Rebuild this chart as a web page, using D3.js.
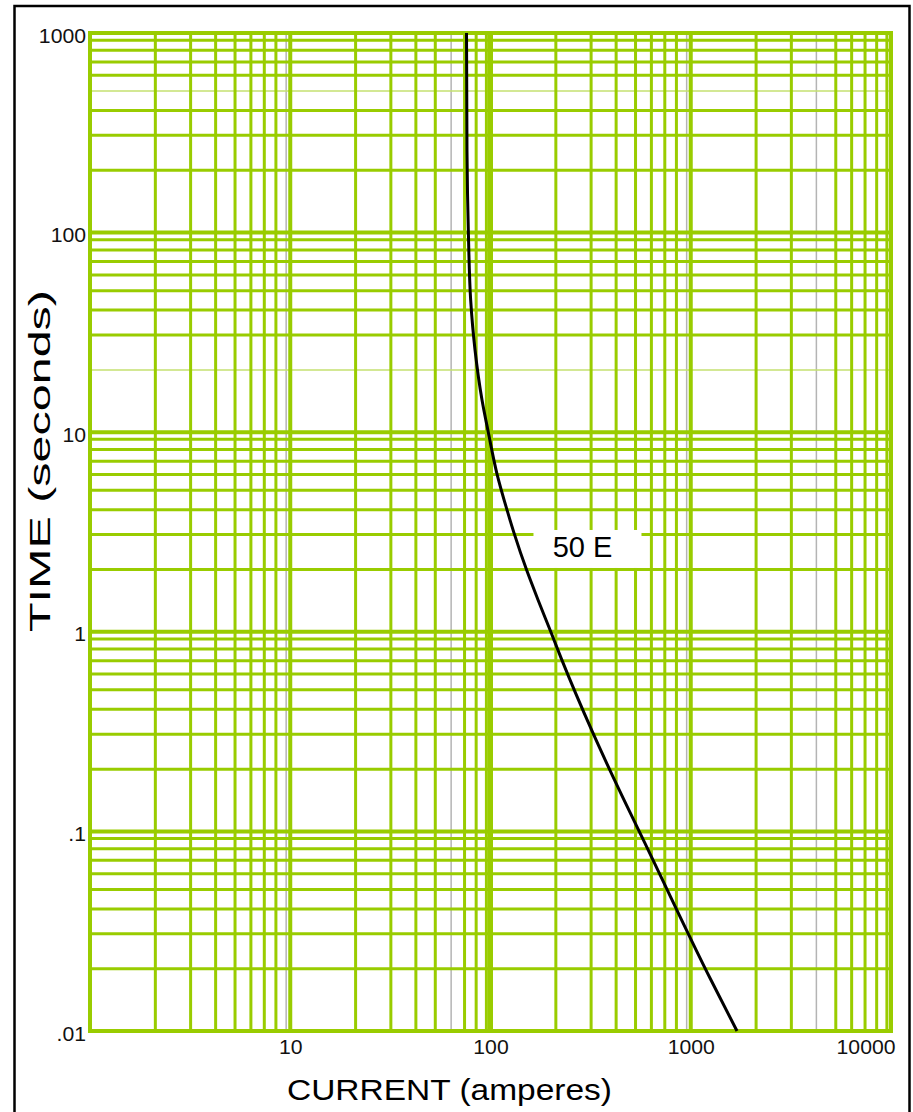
<!DOCTYPE html>
<html>
<head>
<meta charset="utf-8">
<script src="https://cdn.jsdelivr.net/npm/d3@7"></script>
<style>
  html, body { margin: 0; padding: 0; background: #fff; }
  svg { display: block; }
</style>
</head>
<body>
<script>
// ---- Data -------------------------------------------------------------
// Axis ticks and labels
const xTicks = [10, 100, 1000, 10000];
const xTickLabels = ["10", "100", "1000", "10000"];
const yTicks = [1000, 100, 10, 1, 0.1, 0.01];
const yTickLabels = ["1000", "100", "10", "1", ".1", ".01"];

// Log-log paper rulings: decade starts and the minor rulings within a decade
const xDecades = [1, 10, 100, 1000];
const yDecades = [0.01, 0.1, 1, 10, 100];
const xMinor = [2.12, 3.18, 4.24, 5.3, 6.36, 7.42, 8.48, 9.54];
const yMinor = [2.05, 3.07, 4.09, 5.12, 6.14, 7.16, 8.19, 9.21];
const xGrayRulings = [9.54, 63.6, 954, 4240];   // rulings printed thin grey
const yLightRulings = [512, 20.5];              // rulings printed faint

// Minimum melting curve of the 50 E fuse: current (A) vs time (s)
const current = [75.9, 76.3, 77.6, 79.6, 83.7, 90.7, 97.5, 107.8, 120.9, 131, 152, 173, 200, 225, 323, 416, 605, 1262, 1702];
const time    = [1000, 259, 97, 46, 25.8, 14.5, 10, 6.17, 4.08, 3.13, 2.02, 1.44, 1.0, 0.74, 0.315, 0.181, 0.083, 0.018, 0.01];
const curveName = "50 E";
const labelCurrent = 305, labelTime = 2.6;

const xTitle = "CURRENT (amperes)";
const yTitle = "TIME (seconds)";

// ---- Layout -----------------------------------------------------------
const W = 913, H = 1112;
const plot = { left: 90, right: 891, top: 33, bottom: 1031 };
const GREEN = "#99cc00";
const FONT = "'Liberation Sans', Arial, Helvetica, sans-serif";

const svg = d3.select("body").append("svg")
  .attr("width", W).attr("height", H)
  .attr("viewBox", `0 0 ${W} ${H}`);

svg.append("rect").attr("width", W).attr("height", H).attr("fill", "#fff");

// outer frame (open at the bottom)
svg.append("path")
  .attr("d", `M14.5,${H} V6 H909.5 V${H}`)
  .attr("fill", "none").attr("stroke", "#000").attr("stroke-width", 2.5);

const x = d3.scaleLog().domain([1, 10000]).range([plot.left, plot.right]);
const y = d3.scaleLog().domain([0.01, 1000]).range([plot.bottom, plot.top]);

const near = (a, b) => Math.abs(Math.log10(a) - Math.log10(b)) < 0.002;

// ---- Grid -------------------------------------------------------------
const grid = svg.append("g").attr("class", "grid");

const xMinorVals = xDecades.flatMap(d => xMinor.map(m => d * m));
const yMinorVals = yDecades.flatMap(d => yMinor.map(m => d * m));

// thin grey verticals
grid.selectAll("line.xgray")
  .data(xMinorVals.filter(v => xGrayRulings.some(g => near(g, v))))
  .join("line").attr("class", "xgray")
  .attr("x1", d => x(d)).attr("x2", d => x(d))
  .attr("y1", plot.top).attr("y2", plot.bottom)
  .attr("stroke", "#b4b4b4").attr("stroke-width", 1.5);

// horizontal minor rulings
grid.selectAll("line.ymin")
  .data(yMinorVals)
  .join("line").attr("class", "ymin")
  .attr("x1", plot.left).attr("x2", plot.right)
  .attr("y1", d => y(d)).attr("y2", d => y(d))
  .attr("stroke", d => yLightRulings.some(g => near(g, d)) ? "#c4e070" : GREEN)
  .attr("stroke-width", d => yLightRulings.some(g => near(g, d)) ? 1.5 : 3);

// vertical minor rulings
grid.selectAll("line.xmin")
  .data(xMinorVals.filter(v => !xGrayRulings.some(g => near(g, v))))
  .join("line").attr("class", "xmin")
  .attr("x1", d => x(d)).attr("x2", d => x(d))
  .attr("y1", plot.top).attr("y2", plot.bottom)
  .attr("stroke", GREEN).attr("stroke-width", 3);

// decade rulings
grid.selectAll("line.ymaj")
  .data(yTicks)
  .join("line").attr("class", "ymaj")
  .attr("x1", plot.left - 2).attr("x2", plot.right + 2)
  .attr("y1", d => y(d)).attr("y2", d => y(d))
  .attr("stroke", GREEN).attr("stroke-width", 4);

grid.selectAll("line.xmaj")
  .data([1, ...xTicks])
  .join("line").attr("class", "xmaj")
  .attr("x1", d => x(d)).attr("x2", d => x(d))
  .attr("y1", plot.top - 2).attr("y2", plot.bottom + 2)
  .attr("stroke", GREEN).attr("stroke-width", d => d === 100 ? 5 : 4);

// ---- Curve label box --------------------------------------------------
const lx = x(labelCurrent), ly = y(labelTime);
svg.append("rect")
  .attr("x", lx - 54).attr("y", ly - 19)
  .attr("width", 108).attr("height", 38)
  .attr("fill", "#fff");

// ---- Curve ------------------------------------------------------------
const pts = current.map((c, i) => [c, time[i]]);
const line = d3.line()
  .x(d => x(d[0])).y(d => y(d[1]))
  .curve(d3.curveMonotoneY);

svg.append("path")
  .datum(pts)
  .attr("d", line)
  .attr("fill", "none")
  .attr("stroke", "#000")
  .attr("stroke-width", 3)
  .attr("stroke-linejoin", "round");

svg.append("text")
  .attr("x", lx - 5).attr("y", ly + 8)
  .attr("text-anchor", "middle")
  .attr("font-family", FONT).attr("font-size", 29)
  .attr("fill", "#000")
  .text(curveName);

// ---- Axes -------------------------------------------------------------
const yAxis = d3.axisLeft(y)
  .tickValues(yTicks)
  .tickFormat((d, i) => yTickLabels[i])
  .tickSize(0).tickPadding(4);

const xAxis = d3.axisBottom(x)
  .tickValues(xTicks)
  .tickFormat((d, i) => xTickLabels[i])
  .tickSize(0).tickPadding(9);

const gy = svg.append("g").attr("transform", `translate(${plot.left},0)`).call(yAxis);
const gx = svg.append("g").attr("transform", `translate(0,${plot.bottom})`).call(xAxis);

[gx, gy].forEach(g => {
  g.select(".domain").remove();
  g.selectAll("text")
    .attr("font-family", FONT)
    .attr("font-size", 20)
    .attr("fill", "#111");
});
gy.selectAll("text").attr("dy", "0.45em");
gx.selectAll("text").attr("dy", "0.71em");
// last x label sits inside the frame
gx.selectAll(".tick").filter(d => d === 10000).select("text")
  .attr("text-anchor", "end").attr("x", 4);

// slightly wide lettering
svg.selectAll(".tick text").each(function () {
  const t = d3.select(this);
  const len = this.getComputedTextLength();
  t.attr("textLength", len * 1.06).attr("lengthAdjust", "spacingAndGlyphs");
});

// ---- Titles -----------------------------------------------------------
svg.append("text")
  .attr("x", 449.5).attr("y", 1100)
  .attr("text-anchor", "middle")
  .attr("font-family", FONT).attr("font-size", 29)
  .attr("textLength", 325).attr("lengthAdjust", "spacingAndGlyphs")
  .attr("fill", "#000")
  .text(xTitle);

svg.append("text")
  .attr("transform", "translate(50,461) rotate(-90)")
  .attr("text-anchor", "middle")
  .attr("font-family", FONT).attr("font-size", 29)
  .attr("textLength", 342).attr("lengthAdjust", "spacingAndGlyphs")
  .attr("fill", "#000")
  .text(yTitle);
</script>
</body>
</html>
